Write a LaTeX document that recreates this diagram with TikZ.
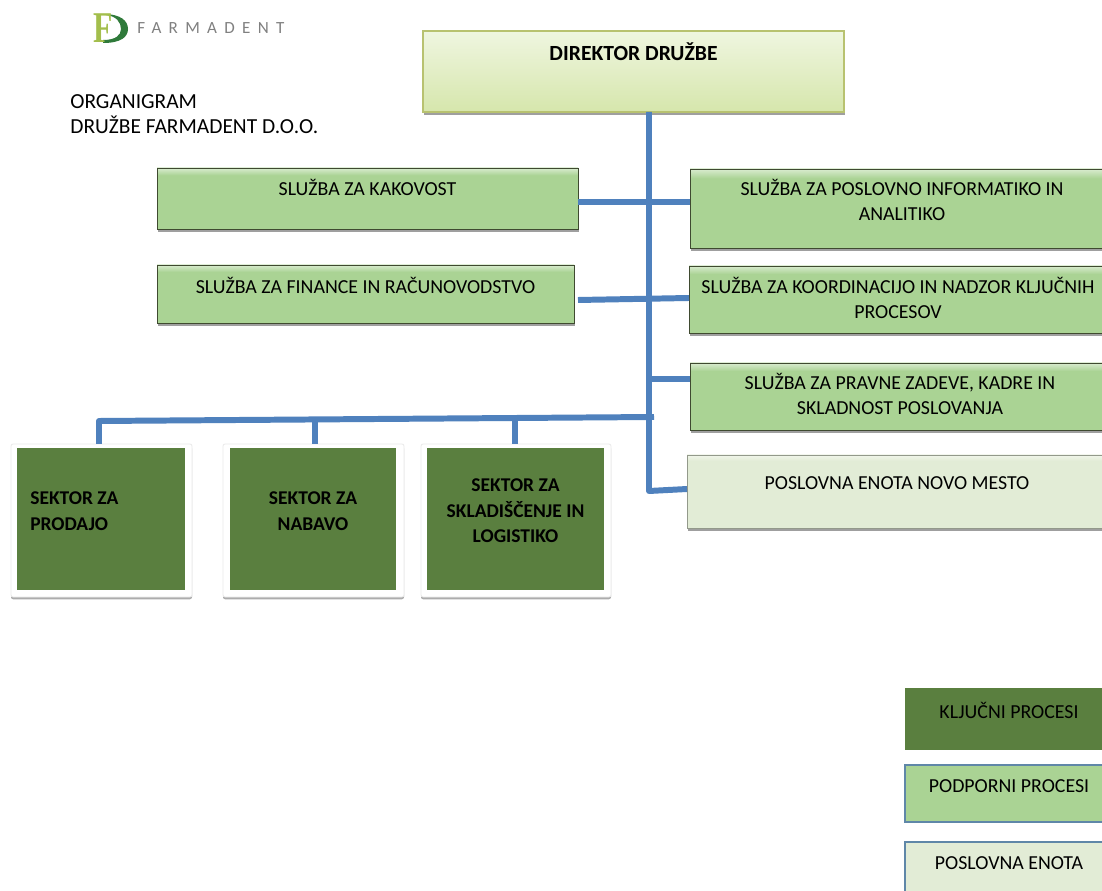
\documentclass[tikz,border=0pt]{standalone}
\usepackage{fontspec}
\setmainfont{Carlito}
\newfontfamily\logofont{Liberation Serif}
\usetikzlibrary{calc,shadows}
\definecolor{linkblue}{HTML}{4F81BD}
\definecolor{kljucni}{HTML}{5A7F3F}
\definecolor{podporni}{HTML}{AAD394}
\definecolor{enota}{HTML}{E2ECD6}
\definecolor{obroba}{HTML}{3F4A30}
\definecolor{legblue}{HTML}{5F87A8}
\definecolor{logolight}{HTML}{A3BE4C}
\definecolor{logodark}{HTML}{2F7A3A}
\definecolor{direktortop}{HTML}{EFF6E0}
\definecolor{direktorbottom}{HTML}{D6E6AC}
\pgfdeclareverticalshading{sluzbashade}{100bp}{color(0bp)=(podporni); color(69bp)=(podporni); color(75bp)=(podporni!45!white); color(100bp)=(podporni!45!white)}
\pgfdeclareverticalshading{enotashade}{100bp}{color(0bp)=(enota); color(71bp)=(enota); color(75bp)=(enota!50!white); color(100bp)=(enota!50!white)}
\tikzset{
  boxbase/.style={inner sep=0pt,outer sep=0pt,rectangle},
  direktorbox/.style={boxbase,draw=direktorbottom!65!olive,line width=.6pt,top color=direktortop,bottom color=direktorbottom,drop shadow={shadow xshift=.6pt,shadow yshift=-1.8pt,opacity=.75}},
  sluzbabox/.style={boxbase,draw=obroba,line width=.5pt,shading=sluzbashade,drop shadow={shadow xshift=.6pt,shadow yshift=-1.8pt,opacity=.75}},
  enotabox/.style={boxbase,draw=enota!65!black,line width=.4pt,shading=enotashade,drop shadow={shadow xshift=.6pt,shadow yshift=-1.8pt,opacity=.75}},
  okvirbox/.style={boxbase,fill=white,draw=black!8,line width=.5pt,rounded corners=1.2pt,drop shadow={shadow xshift=0pt,shadow yshift=-1.3pt,opacity=.65}},
  sektorbox/.style={boxbase,fill=kljucni},
  legkljucni/.style={boxbase,fill=kljucni},
  legpodporni/.style={boxbase,draw=legblue,line width=.7pt,fill=podporni},
  legenota/.style={boxbase,draw=legblue,line width=.7pt,fill=enota},
  boxtext/.style={inner sep=0pt,align=center,font=\fontsize{11.3}{14.6}\selectfont,text=black},
  boldtext/.style={boxtext,font=\fontsize{11.1}{14.6}\selectfont\bfseries},
  link/.style={draw=linkblue,line width=3.4pt,line join=round},
}
\newcommand\orgbox[8]{% name, style, left, top, right, bottom, text y, text
\node[#2,anchor=north west,minimum width={(#5-#3)*0.02cm},minimum height={(#6-#4)*0.02cm}] (#1) at (#3,#4) {};
\node[boxtext] (#1text) at ($(#1.north)+(0,#7-#4)$) {#8};}
\newcommand\sektorbox[9]{% name, frame l, t, r, b, inner l, inner r, text y, text
\node[okvirbox,anchor=north west,minimum width={(#4-#2)*0.02cm},minimum height={(#5-#3)*0.02cm}] (#1okvir) at (#2,#3) {};
\node[sektorbox,anchor=north west,minimum width={(#7-#6)*0.02cm},minimum height=142*0.02cm] (#1) at (#6,448) {};
\node[boldtext] (#1text) at ($(#1.north)+(0,#8-448)$) {#9};}

\begin{document}
\begin{tikzpicture}[x=0.02cm,y=-0.02cm]
  \clip (0,0) rectangle (1102,891);
  \fill[white] (0,0) rectangle (1102,891);

  % logo
  \fill[logodark] (103,14) .. controls (121,14) and (128,21) .. (128,29) .. controls (128,37) and (121,43) .. (103,43) -- (103,40) .. controls (116,40) and (121,35) .. (121,29) .. controls (121,22) and (116,16) .. (106,15) -- cycle;
  \node[inner sep=0pt,text=logolight,xscale=.72,font=\logofont\bfseries\fontsize{25}{25}\selectfont] (logof) at (103.5,28.5) {F};
  \node[inner sep=0pt,anchor=west,text=black!50,font=\fontsize{9.7}{10}\selectfont\addfontfeature{LetterSpace=43}] (logoname) at (137,28) {FARMADENT};

  % naslov
  \node[inner sep=0pt,anchor=north west,align=left,font=\fontsize{12.2}{14.6}\selectfont] (naslov) at (70,94) {ORGANIGRAM\\DRUŽBE FARMADENT D.O.O.};

  % vozlisca
  \orgbox{direktor}{direktorbox}{423}{31}{844}{112}{51.5}{\fontsize{12.3}{14.6}\selectfont\bfseries DIREKTOR DRUŽBE}
  \orgbox{kakovost}{sluzbabox}{157}{168}{578}{229}{187.5}{SLUŽBA ZA KAKOVOST}
  \orgbox{finance}{sluzbabox}{157}{265}{574}{323}{285.5}{SLUŽBA ZA FINANCE IN RAČUNOVODSTVO}
  \orgbox{informatika}{sluzbabox}{690}{169}{1114}{248}{200}{SLUŽBA ZA POSLOVNO INFORMATIKO IN\\ANALITIKO}
  \orgbox{koordinacija}{sluzbabox}{689}{266}{1107}{333}{298}{SLUŽBA ZA KOORDINACIJO IN NADZOR KLJUČNIH\\PROCESOV}
  \orgbox{pravne}{sluzbabox}{690}{363}{1110}{430}{394}{SLUŽBA ZA PRAVNE ZADEVE, KADRE IN\\SKLADNOST POSLOVANJA}
  \orgbox{novomesto}{enotabox}{687}{455}{1107}{528}{483}{POSLOVNA ENOTA NOVO MESTO}

  % sektorji
  \sektorbox{prodaja}{11}{444}{192}{597}{17}{185}{511}{\parbox{80.5pt}{\raggedright SEKTOR ZA\\PRODAJO}}
  \sektorbox{nabava}{223}{444}{404}{597}{230}{396}{511}{SEKTOR ZA\\NABAVO}
  \sektorbox{logistika}{421}{444}{611}{597}{427}{604}{511}{SEKTOR ZA\\SKLADIŠČENJE IN\\LOGISTIKO}

  % legenda
  \orgbox{legkljucni}{legkljucni}{905}{688}{1113}{750}{710.5}{KLJUČNI PROCESI}
  \orgbox{legpodporni}{legpodporni}{905}{765}{1113}{822}{786}{PODPORNI PROCESI}
  \orgbox{legenota}{legenota}{905}{842}{1113}{900}{863}{POSLOVNA ENOTA}

  % povezave
  \coordinate (trunktop) at (649,112);
  \coordinate (trunkend) at (649,491);
  \coordinate (jkakovost) at (0,202);
  \coordinate (jfinleft) at (578,300);
  \coordinate (jfinright) at (0,298);
  \coordinate (jpravne) at (0,379);
  \coordinate (jenota) at (0,489);
  \coordinate (busright) at (654,417);
  \coordinate (busleft) at (99,421);
  \coordinate (dropnabava) at (315,420);
  \coordinate (droplogistika) at (515,418.5);
  \draw[link] (trunktop) -- (trunkend) -- (novomesto.west |- jenota);
  \draw[link] (kakovost.east |- jkakovost) -- (informatika.west |- jkakovost);
  \draw[link] (jfinleft) -- (koordinacija.west |- jfinright);
  \draw[link] (trunkend |- jpravne) -- (pravne.west |- jpravne);
  \draw[link] (busright) -- (busleft) -- (busleft |- prodajaokvir.north);
  \draw[link] (dropnabava) -- (dropnabava |- nabavaokvir.north);
  \draw[link] (droplogistika) -- (droplogistika |- logistikaokvir.north);
\end{tikzpicture}
\end{document}
